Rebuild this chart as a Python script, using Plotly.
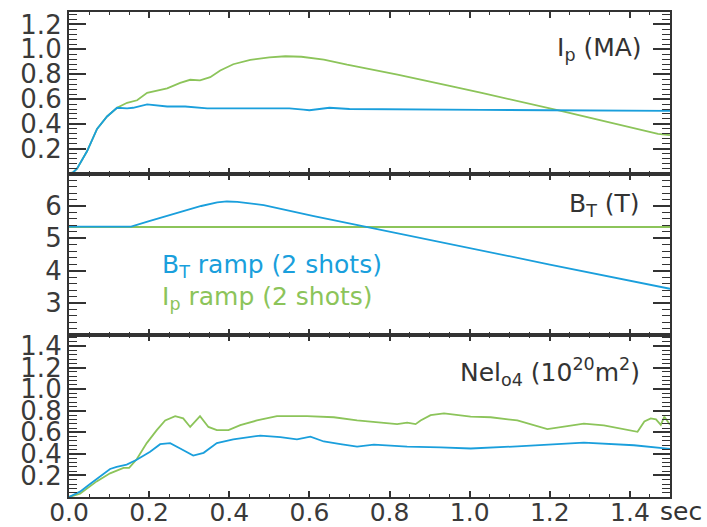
import plotly.graph_objects as go
from plotly.subplots import make_subplots

# ---------------- data ----------------
# Plasma current Ip (MA)
ip_t_bt = [0, 0.01, 0.02, 0.045, 0.07, 0.095, 0.12, 0.145, 0.16, 0.195, 0.245, 0.29, 0.345,
           0.41, 0.55, 0.585, 0.6, 0.625, 0.65, 0.7, 0.85, 1.03, 1.2, 1.5]
ip_bt = [0, 0.01, 0.04, 0.18, 0.36, 0.46, 0.53, 0.525, 0.53, 0.557, 0.54, 0.54, 0.525,
         0.525, 0.525, 0.515, 0.51, 0.52, 0.53, 0.52, 0.515, 0.513, 0.51, 0.505]
ip_t_ip = [0, 0.01, 0.02, 0.045, 0.07, 0.095, 0.12, 0.145, 0.17, 0.195, 0.245, 0.2775, 0.3025,
           0.327, 0.3525, 0.3775, 0.41, 0.4525, 0.5, 0.54, 0.58, 0.636, 0.694, 0.82, 0.95,
           1.03, 1.2275, 1.47, 1.5]
ip_ip = [0, 0.01, 0.04, 0.18, 0.36, 0.46, 0.53, 0.57, 0.59, 0.65, 0.686, 0.73, 0.755,
         0.75, 0.776, 0.83, 0.88, 0.915, 0.935, 0.944, 0.94, 0.917, 0.876, 0.797, 0.706,
         0.65, 0.504, 0.32, 0.31]

# Toroidal field BT (T)
bt_t_bt = [0, 0.155, 0.2, 0.2775, 0.33, 0.37, 0.394, 0.42, 0.486, 0.611, 0.74, 0.8775,
           0.9525, 1.2, 1.5]
bt_bt = [5.36, 5.36, 5.53, 5.82, 6.0, 6.11, 6.14, 6.13, 6.03, 5.69, 5.36, 5.01,
         4.83, 4.19, 3.44]
bt_t_ip = [0, 0.5, 1.0, 1.5]
bt_ip = [5.35, 5.35, 5.35, 5.35]

# Line-averaged density Nel04 (1e20 m^-2)
ne_t_bt = [0, 0.0275, 0.0525, 0.1025, 0.119, 0.144, 0.169, 0.2025, 0.2275, 0.2525, 0.2775,
           0.31, 0.336, 0.369, 0.41, 0.4525, 0.4775, 0.5275, 0.569, 0.6025, 0.636, 0.6775,
           0.719, 0.761, 0.8025, 0.844, 0.9275, 1.0025, 1.119, 1.2, 1.285, 1.41, 1.5]
ne_bt = [0, 0.05, 0.12, 0.26, 0.28, 0.30, 0.345, 0.42, 0.49, 0.50, 0.45,
         0.385, 0.41, 0.50, 0.535, 0.56, 0.57, 0.555, 0.535, 0.56, 0.515, 0.49,
         0.467, 0.485, 0.475, 0.467, 0.46, 0.45, 0.47, 0.49, 0.505, 0.48, 0.446]
ne_t_ip = [0, 0.0275, 0.069, 0.1025, 0.136, 0.15, 0.169, 0.194, 0.219, 0.24, 0.265, 0.285,
           0.3025, 0.3235, 0.327, 0.348, 0.369, 0.398, 0.4275, 0.469, 0.519, 0.594, 0.661,
           0.719, 0.7775, 0.819, 0.844, 0.865, 0.8775, 0.9025, 0.936, 0.975, 1.0025, 1.0525,
           1.119, 1.194, 1.227, 1.285, 1.335, 1.419, 1.436, 1.452, 1.465, 1.477, 1.486, 1.5]
ne_ip = [0, 0.03, 0.145, 0.22, 0.27, 0.27, 0.35, 0.50, 0.62, 0.71, 0.75, 0.73,
         0.65, 0.74, 0.75, 0.65, 0.62, 0.62, 0.667, 0.71, 0.75, 0.75, 0.74,
         0.71, 0.69, 0.676, 0.69, 0.676, 0.71, 0.76, 0.775, 0.76, 0.745, 0.74,
         0.71, 0.63, 0.646, 0.68, 0.665, 0.605, 0.70, 0.73, 0.72, 0.67, 0.745, 0.67]

x_ticks = [0.0, 0.2, 0.4, 0.6, 0.8, 1.0, 1.2, 1.4]
x_labels = ["0.0", "0.2", "0.4", "0.6", "0.8", "1.0", "1.2", "1.4"]
ip_ticks = [0.2, 0.4, 0.6, 0.8, 1.0, 1.2]
ip_labels = ["0.2", "0.4", "0.6", "0.8", "1.0", "1.2"]
bt_ticks = [3, 4, 5, 6]
bt_labels = ["3", "4", "5", "6"]
ne_ticks = [0.2, 0.4, 0.6, 0.8, 1.0, 1.2, 1.4]
ne_labels = ["0.2", "0.4", "0.6", "0.8", "1.0", "1.2", "1.4"]

# ---------------- style ----------------
BLUE = "#1a9fdc"
GREEN = "#8cc45a"
AX = "#333333"
FONT = "DejaVu Sans"
W, H = 707, 527
ML, MR, MT, MB = 69, 37, 12, 30
PW, PH = W - ML - MR, H - MT - MB


def px(x):
    return (x - ML) / PW


def py(y):
    return (H - MB - y) / PH


fig = make_subplots(rows=3, cols=1, shared_xaxes=True, vertical_spacing=0)

line_kw = dict(mode="lines", showlegend=False, hoverinfo="skip")
fig.add_trace(go.Scatter(x=ip_t_ip, y=ip_ip, line=dict(color=GREEN, width=1.8), **line_kw), row=1, col=1)
fig.add_trace(go.Scatter(x=ip_t_bt, y=ip_bt, line=dict(color=BLUE, width=1.8), **line_kw), row=1, col=1)
fig.add_trace(go.Scatter(x=bt_t_ip, y=bt_ip, line=dict(color=GREEN, width=1.8), **line_kw), row=2, col=1)
fig.add_trace(go.Scatter(x=bt_t_bt, y=bt_bt, line=dict(color=BLUE, width=1.8), **line_kw), row=2, col=1)
fig.add_trace(go.Scatter(x=ne_t_ip, y=ne_ip, line=dict(color=GREEN, width=1.8), **line_kw), row=3, col=1)
fig.add_trace(go.Scatter(x=ne_t_bt, y=ne_bt, line=dict(color=BLUE, width=1.8), **line_kw), row=3, col=1)

ytickfont = dict(family=FONT, size=26, color="#3a3a3a")
xtickfont = dict(family=FONT, size=25, color="#3a3a3a")
common = dict(showline=True, linewidth=2.2, linecolor=AX, mirror="allticks",
              ticks="inside", tickcolor=AX, showgrid=False, zeroline=False,
              automargin=False)

for r in (1, 2, 3):
    fig.update_xaxes(range=[0, 1.5], tickmode="array", tickvals=x_ticks, ticktext=x_labels,
                     ticklen=6, tickwidth=1.5, ticklabelstandoff=-8, tickfont=xtickfont,
                     minor=dict(ticks="inside", ticklen=3, tickwidth=1.2, tickcolor=AX,
                                tickmode="linear", tick0=0, dtick=0.05),
                     showticklabels=(r == 3), row=r, col=1, **common)

yaxis_specs = [
    (1, [0, 1.3], ip_ticks, ip_labels, 0.04),
    (2, [2, 7], bt_ticks, bt_labels, 0.2),
    (3, [0, 1.5], ne_ticks, ne_labels, 0.04),
]
for r, rng, tv, tt, md in yaxis_specs:
    fig.update_yaxes(range=rng, tickmode="array", tickvals=tv, ticktext=tt,
                     ticklen=17, tickwidth=1.5, tickfont=ytickfont,
                     minor=dict(ticks="inside", ticklen=8, tickwidth=1.2, tickcolor=AX,
                                tickmode="linear", tick0=0, dtick=md),
                     row=r, col=1, **common)

label_font = dict(family=FONT, size=25, color=AX)
annotations = [
    dict(text="I<sub>p</sub> (MA)", x=px(644), y=py(49), xanchor="right", yanchor="middle",
         font=label_font),
    dict(text="B<sub>T</sub> (T)", x=px(642), y=py(205), xanchor="right", yanchor="middle",
         font=label_font),
    dict(text="Nel<sub>o4</sub> (10<sup>20</sup>m<sup>2</sup>)", x=px(642), y=py(372),
         xanchor="right", yanchor="middle", font=label_font),
    dict(text="B<sub>T</sub> ramp (2 shots)", x=px(160), y=py(266), xanchor="left",
         yanchor="middle", font=dict(family=FONT, size=25, color=BLUE)),
    dict(text="I<sub>p</sub> ramp (2 shots)", x=px(160), y=py(298), xanchor="left",
         yanchor="middle", font=dict(family=FONT, size=25, color=GREEN)),
    dict(text="sec", x=px(658), y=py(512), xanchor="left", yanchor="middle",
         font=dict(family=FONT, size=25, color=AX)),
]
for a in annotations:
    a.update(xref="paper", yref="paper", showarrow=False)

fig.update_layout(
    width=W, height=H,
    margin=dict(l=ML, r=MR, t=MT, b=MB, pad=0, autoexpand=False),
    paper_bgcolor="white", plot_bgcolor="white",
    annotations=annotations,
    showlegend=False,
)

fig.write_html("out.html")
